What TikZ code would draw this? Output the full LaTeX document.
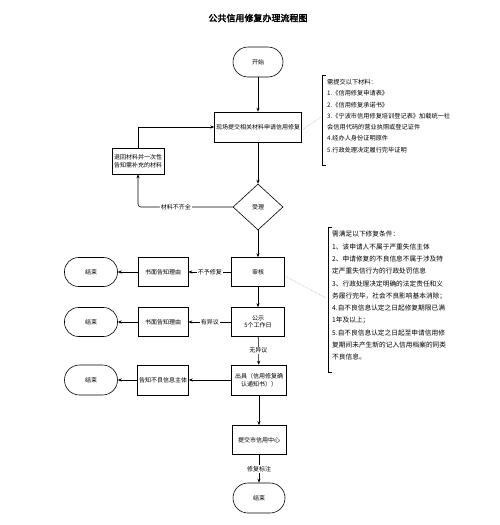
\documentclass[tikz,border=0pt]{standalone}
\usepackage{fontspec}
\setmainfont{Noto Sans CJK SC}
\newfontfamily\cjkb[FakeBold=2.5]{Noto Sans CJK SC}
\usetikzlibrary{shapes.geometric,arrows.meta}
\begin{document}
\begin{tikzpicture}[x=1pt,y=-1pt,
  every node/.style={font=\fontsize{6}{7.5}\selectfont, inner sep=1pt},
  proc/.style={draw, line width=0.6pt, minimum width=53pt, minimum height=29pt, align=center},
  term/.style={draw, line width=0.6pt, minimum width=53pt, minimum height=29pt, rounded corners=14pt, align=center},
  dec/.style={draw, diamond, line width=0.6pt, minimum width=50pt, minimum height=46pt, inner sep=0pt},
  arr/.style={line width=0.6pt, -{Stealth[length=4pt,width=3.2pt]}},
  lbl/.style={fill=white, inner sep=1pt},
  note/.style={align=left, anchor=north west, inner sep=0pt},
  link/.style={gray!70, densely dotted, line width=0.5pt}]
\useasboundingbox (0,0) rectangle (500,525);
\fill[white] (0,0) rectangle (500,525);
\node[font=\cjkb\fontsize{9}{10}\selectfont] (title) at (258,18) {公共信用修复办理流程图};

\node[term, minimum width=50pt, minimum height=30pt, rounded corners=15pt] (start) at (258,62) {开始};
\node[proc, minimum width=87pt, minimum height=30pt] (b1) at (258,127) {现场提交相关材料申请信用修复};
\node[dec] (dia) at (258,207) {受理};
\node[proc, minimum width=52pt, minimum height=26pt] (back) at (138,161) {退回材料并一次性\\告知需补充的材料};
\node[proc] (audit) at (258,272) {审核};
\node[proc, minimum width=50pt] (r1) at (163,272) {书面告知理由};
\node[term] (e1) at (91,272) {结束};
\node[proc] (pub) at (258,322) {公示\\5个工作日};
\node[proc, minimum width=50pt] (r2) at (163,322) {书面告知理由};
\node[term] (e2) at (91,322) {结束};
\node[proc, minimum width=55pt, minimum height=30pt] (issue) at (259,380) {出具（信用修复确\\认通知书））};
\node[proc, minimum width=51pt, minimum height=30pt, inner sep=0.5pt] (r3) at (163,380) {告知不良信息主体};
\node[term, minimum height=30pt, rounded corners=15pt] (e3) at (91,380) {结束};
\node[proc, minimum width=54pt] (submit) at (259,440) {提交市信用中心};
\node[term, minimum width=52pt, minimum height=30pt, rounded corners=15pt] (end) at (259,498) {结束};

% notes
\draw[line width=0.6pt] (326,75) -- (322,75) -- (322,165) -- (326,165);
\coordinate (n1) at (321,117);
\node[note, font=\fontsize{6.2}{11.3}\selectfont] (note1) at (327,79) {需提交以下材料：\\1.《信用修复申请表》\\2.《信用修复承诺书》\\3.《宁波市信用修复培训登记表》加载统一社\\会信用代码的营业执照或登记证件\\4.经办人身份证明原件\\5.行政处理决定履行完毕证明};
\draw[line width=0.6pt] (332,227) -- (328,227) -- (328,372) -- (332,372);
\coordinate (n2) at (326,298);
\node[note, font=\fontsize{6.7}{12.3}\selectfont] (note2) at (332,231) {需满足以下修复条件：\\1、该申请人不属于严重失信主体\\2、申请修复的不良信息不属于涉及特\\定严重失信行为的行政处罚信息\\3、行政处理决定明确的法定责任和义\\务履行完毕，社会不良影响基本消除；\\4.自不良信息认定之日起修复期限已满\\1年及以上；\\5.自不良信息认定之日起至申请信用修\\复期间未产生新的记入信用档案的同类\\不良信息。};
\draw[link] ([yshift=-3pt]b1.east) -- (n1);
\draw[link] ([yshift=-4pt]audit.east) -- (n2);

% connectors
\draw[arr] (start) -- (b1);
\draw[arr] (b1) -- (dia);
\draw[arr, rounded corners=3pt] (dia.west) -- node[lbl, pos=0.6] {材料不齐全} (back.south |- dia.west) -- (back.south);
\draw[arr] (back.north) |- (b1.west);
\draw[arr] (dia) -- (audit);
\draw[arr] (audit) -- node[lbl] {不予修复} (r1);
\draw[arr] (r1) -- (e1);
\draw[arr] (audit) -- (pub);
\draw[arr] (pub) -- node[lbl] {有异议} (r2);
\draw[arr] (r2) -- (e2);
\draw[arr] (pub) -- node[lbl] {无异议} (issue);
\draw[arr] (issue) -- (r3);
\draw[arr] (r3) -- (e3);
\draw[arr] (issue) -- (submit);
\draw[arr] (submit) -- node[lbl] {修复标注} (end);
\end{tikzpicture}
\end{document}
